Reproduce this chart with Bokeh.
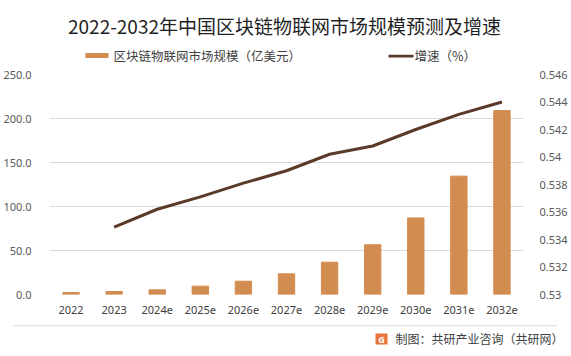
from bokeh.plotting import figure
from bokeh.layouts import column
from bokeh.models import (FactorRange, Range1d, LinearAxis, FixedTicker, NumeralTickFormatter,
                          Label, BoxAnnotation)
from bokeh.embed import file_html
from bokeh.resources import INLINE

categories = ["2022", "2023", "2024e", "2025e", "2026e", "2027e", "2028e", "2029e", "2030e", "2031e", "2032e"]
market_size = [2.2, 3.4, 5.3, 9.5, 15.1, 23.5, 36.7, 56.5, 87.0, 134.5, 209.0]
growth_categories = categories[1:]
growth = [0.5349, 0.5362, 0.5371, 0.5381, 0.5390, 0.5402, 0.5408, 0.5420, 0.5431, 0.5440]
left_ticks = [0, 50, 100, 150, 200, 250]
right_ticks = [0.53, 0.532, 0.534, 0.536, 0.538, 0.54, 0.542, 0.544, 0.546]

title_text = "2022-2032年中国区块链物联网市场规模预测及增速"
bar_name = "区块链物联网市场规模（亿美元）"
line_name = "增速（%）"
footer_text = "制图：共研产业咨询（共研网）"

BAR = "#D38C50"
LINE = "#5A3B2A"
CJK = "Noto Sans CJK SC"
NUM = "Noto Sans"
W = 571
HEAD_H = 64
FOOT_TOP = 322
FOOT_H = 356 - FOOT_TOP


def blank(height, top_px):
    f = figure(width=W, height=height, x_range=Range1d(0, W),
               y_range=Range1d(top_px + height, top_px),
               x_axis_type=None, y_axis_type=None, output_backend="svg", toolbar_location=None,
               min_border=0, min_border_left=0, min_border_right=0, min_border_top=0,
               min_border_bottom=0, frame_align=False)
    f.outline_line_color = None
    f.grid.visible = False
    f.title.visible = False
    f.background_fill_color = "white"
    f.border_fill_color = "white"
    return f


# ---- header: title + legend ----
head = blank(HEAD_H, 0)
head.add_layout(Label(x=284, y=25, text=title_text, text_align="center", text_baseline="middle",
                      text_font=CJK, text_font_size="19px", text_color="#1F1F1F"))
head.add_layout(BoxAnnotation(left=85, right=108, top=52.6, bottom=57.6,
                              fill_color=BAR, fill_alpha=1, line_color=None))
head.add_layout(Label(x=113, y=55, text=bar_name, text_align="left", text_baseline="middle",
                      text_font=CJK, text_font_size="12.5px", text_color="#404040"))
head.add_layout(BoxAnnotation(left=388, right=413, top=54.3, bottom=56.9,
                              fill_color=LINE, fill_alpha=1, line_color=None))
head.add_layout(Label(x=414, y=55, text=line_name, text_align="left", text_baseline="middle",
                      text_font=CJK, text_font_size="12.5px", text_color="#404040"))

# ---- main chart ----
p = figure(width=W, height=356 - HEAD_H - FOOT_H, x_range=FactorRange(*categories),
           y_range=Range1d(0, 250), output_backend="svg", toolbar_location=None,
           min_border_left=48, min_border_right=48, min_border_top=74 - HEAD_H,
           min_border_bottom=FOOT_TOP - 294, frame_align=False)
p.outline_line_color = None
p.background_fill_color = "white"
p.border_fill_color = "white"
p.title.visible = False

p.extra_y_ranges = {"r": Range1d(0.53, 0.546)}

p.vbar(x=categories, top=market_size, width=0.38, color=BAR)
p.line(x=growth_categories, y=growth, y_range_name="r", line_color=LINE, line_width=3)

p.xaxis.axis_line_color = None
p.xaxis.major_tick_line_color = None
p.xaxis.minor_tick_line_color = None
p.xaxis.major_label_text_font = NUM
p.xaxis.major_label_text_font_size = "11px"
p.xaxis.major_label_text_color = "#404040"
p.xaxis.major_label_standoff = 5

p.yaxis.ticker = FixedTicker(ticks=left_ticks)
p.yaxis.formatter = NumeralTickFormatter(format="0.0")
p.yaxis.axis_line_color = None
p.yaxis.major_tick_line_color = None
p.yaxis.minor_tick_line_color = None
p.yaxis.major_label_text_font = NUM
p.yaxis.major_label_text_font_size = "11px"
p.yaxis.major_label_text_color = "#595959"
p.yaxis.major_label_standoff = 12

ra = LinearAxis(y_range_name="r", ticker=FixedTicker(ticks=right_ticks),
                formatter=NumeralTickFormatter(format="0.[000]"))
ra.axis_line_color = None
ra.major_tick_line_color = None
ra.minor_tick_line_color = None
ra.major_label_text_font = NUM
ra.major_label_text_font_size = "11px"
ra.major_label_text_color = "#595959"
ra.major_label_standoff = 10
p.add_layout(ra, "right")

p.xgrid.grid_line_color = None
p.ygrid.grid_line_color = "#D9D9D9"
p.ygrid.grid_line_width = 1

# ---- footer ----
foot = blank(FOOT_H, FOOT_TOP)
foot.add_layout(BoxAnnotation(left=13, right=557, top=324.6, bottom=325.8,
                              fill_color="#E3E3E3", fill_alpha=1, line_color=None))
foot.add_layout(BoxAnnotation(left=375, right=387, top=333, bottom=344,
                              fill_color="#E8743B", fill_alpha=1, line_color=None))
foot.add_layout(Label(x=381, y=338.5, text="G", text_align="center", text_baseline="middle",
                      text_font=NUM, text_font_size="9px", text_font_style="bold", text_color="white"))
foot.add_layout(Label(x=395, y=338, text=footer_text, text_align="left", text_baseline="middle",
                      text_font=CJK, text_font_size="12px", text_color="#404040"))

layout = column(head, p, foot, spacing=0)
open("out.html", "w").write(file_html(layout, INLINE))
